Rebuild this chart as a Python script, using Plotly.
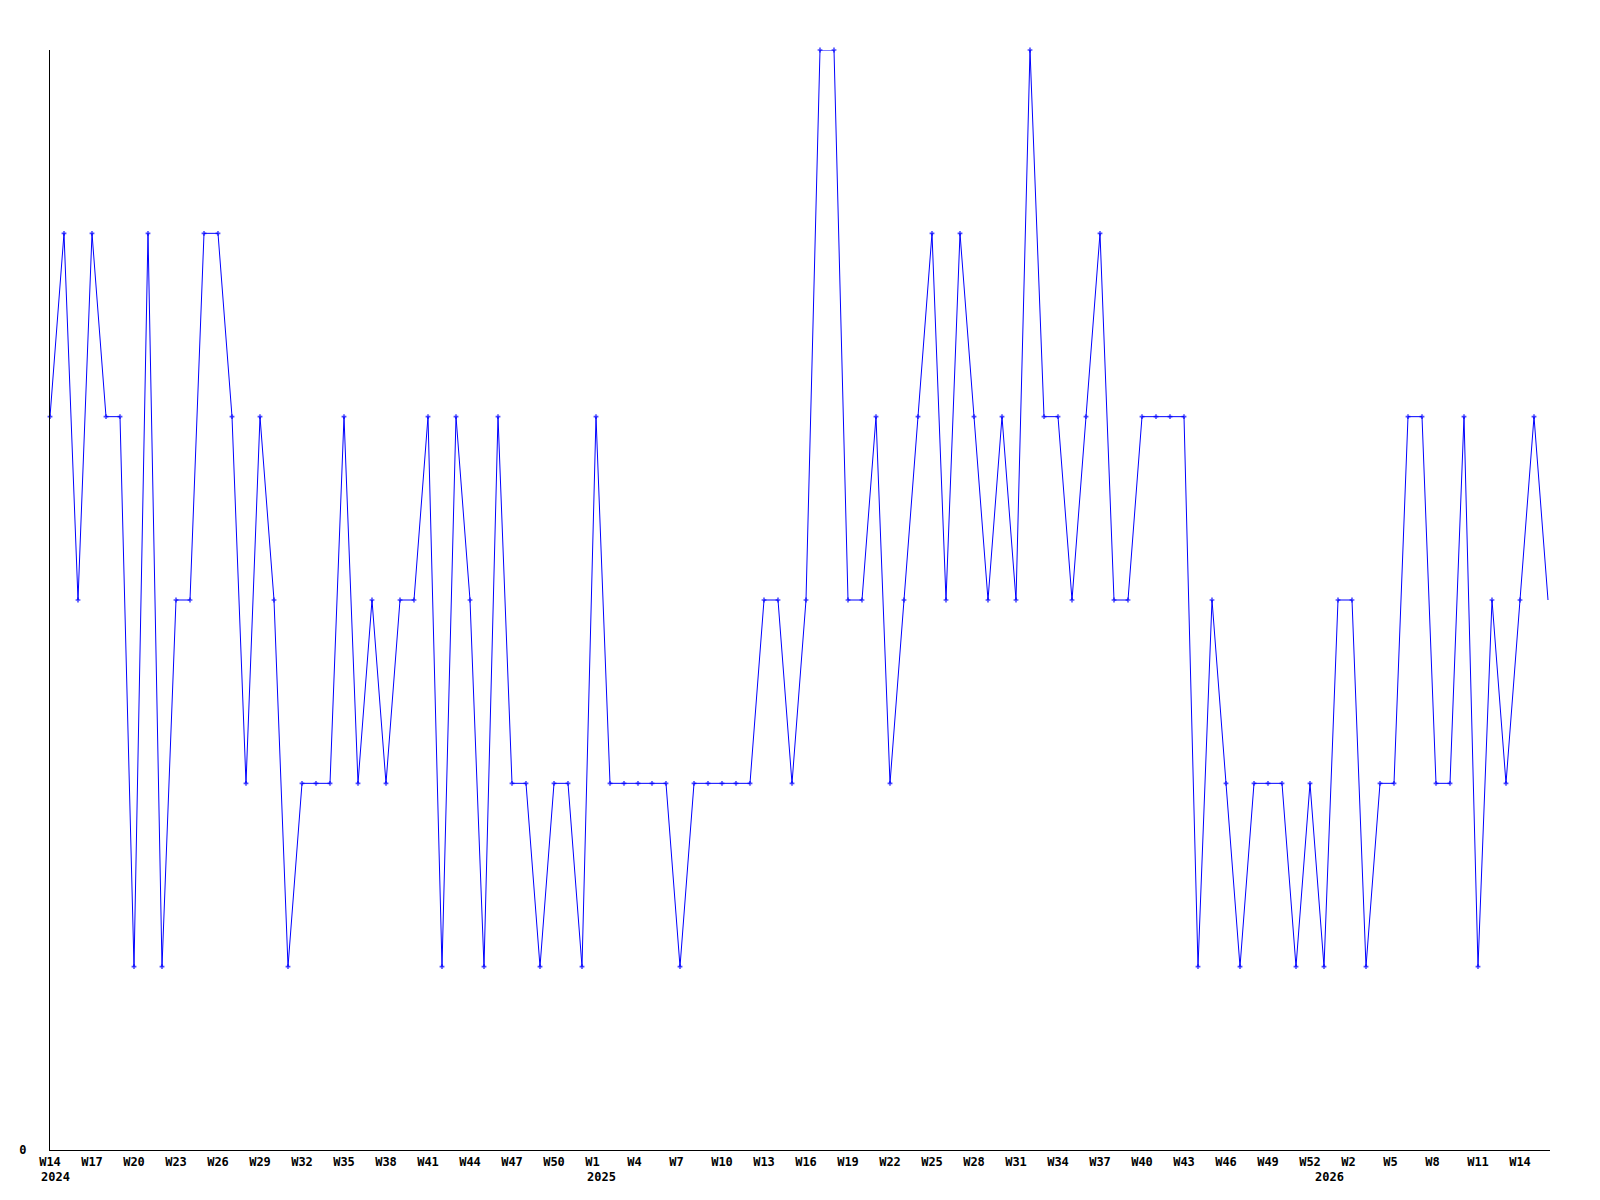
import plotly.graph_objects as go

# Weekly values, W14 2024 .. (index 0..107)
values = [
    4, 5, 3, 5, 4, 4, 1, 5, 1, 3,
    3, 5, 5, 4, 2, 4, 3, 1, 2, 2,
    2, 4, 2, 3, 2, 3, 3, 4, 1, 4,
    3, 1, 4, 2, 2, 1, 2, 2, 1, 4,
    2, 2, 2, 2, 2, 1, 2, 2, 2, 2,
    2, 3, 3, 2, 3, 6, 6, 3, 3, 4,
    2, 3, 4, 5, 3, 5, 4, 3, 4, 3,
    6, 4, 4, 3, 4, 5, 3, 3, 4, 4,
    4, 4, 1, 3, 2, 1, 2, 2, 2, 1,
    2, 1, 3, 3, 1, 2, 2, 4, 4, 2,
    2, 4, 1, 3, 2, 3, 4, 3,
]
x_index = list(range(len(values)))

# Week tick labels (every third week)
tick_positions = list(range(0, 106, 3))
week_labels = [
    "W14", "W17", "W20", "W23", "W26", "W29", "W32", "W35", "W38", "W41",
    "W44", "W47", "W50", "W1", "W4", "W7", "W10", "W13", "W16", "W19",
    "W22", "W25", "W28", "W31", "W34", "W37", "W40", "W43", "W46", "W49",
    "W52", "W2", "W5", "W8", "W11", "W14",
]
# Year labels and the index where each year starts
year_labels = ["2024", "2025", "2026"]
year_positions = [0, 39, 91]

FONT = "DejaVu Sans Mono"
BLUE = "#0000FF"

ticktext = [("<b>" + lbl + "</b>") + ("\u00a0" if len(lbl) == 2 else "") for lbl in week_labels]

marker_sizes = [4] * (len(values) - 1) + [0]

fig = go.Figure()
fig.add_trace(go.Scatter(
    x=x_index, y=values, mode="lines+markers",
    line=dict(color=BLUE, width=1),
    marker=dict(symbol="cross", size=marker_sizes, color=BLUE, line=dict(width=0)),
    cliponaxis=False, showlegend=False, hoverinfo="skip",
))

for lbl, pos in zip(year_labels, year_positions):
    fig.add_annotation(
        x=pos, y=0, xref="x", yref="y", text="<b>" + lbl + "</b>",
        showarrow=False, xanchor="left", yanchor="top",
        xshift=-11, yshift=-18,
        font=dict(family=FONT, size=12, color="black"),
    )

fig.update_layout(
    width=1584, height=1184,
    margin=dict(l=42, r=42, t=42, b=42, autoexpand=False),
    paper_bgcolor="white", plot_bgcolor="white",
    xaxis=dict(
        range=[0, 1500 / 14], showgrid=False, zeroline=False, automargin=False,
        showline=True, linecolor="black", linewidth=1,
        tickmode="array", tickvals=tick_positions, ticktext=ticktext,
        ticks="", ticklabelstandoff=1,
        tickfont=dict(family=FONT, size=12, color="black"),
    ),
    yaxis=dict(
        range=[0, 6], showgrid=False, zeroline=False, automargin=False,
        showline=True, linecolor="black", linewidth=1,
        tickmode="array", tickvals=[0], ticktext=["<b>0</b>"],
        ticks="", ticklabelstandoff=20,
        tickfont=dict(family=FONT, size=12, color="black"),
    ),
)

fig.write_html("out.html")
